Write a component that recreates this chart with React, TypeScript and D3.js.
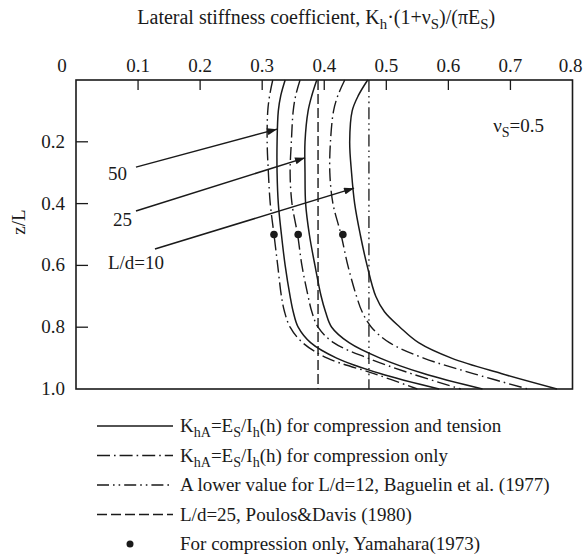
import React from 'react';
import * as d3 from 'd3';

// depth ratio z/L shared by the curves
const depthZ = [0, 0.05, 0.1, 0.2, 0.3, 0.4, 0.5, 0.6, 0.7, 0.75, 0.8, 0.85, 0.9, 0.95, 1.0];
// K_hA = Es/Ih(h), compression and tension (solid)
const solidLd10 = [0.470, 0.455, 0.445, 0.441, 0.444, 0.449, 0.458, 0.469, 0.483, 0.497, 0.522, 0.552, 0.605, 0.685, 0.775];
const solidLd25 = [0.388, 0.380, 0.374, 0.369, 0.369, 0.370, 0.376, 0.385, 0.395, 0.402, 0.412, 0.440, 0.490, 0.560, 0.655];
const solidLd50 = [0.337, 0.330, 0.326, 0.324, 0.324, 0.326, 0.331, 0.337, 0.345, 0.350, 0.358, 0.378, 0.420, 0.490, 0.585];
// compression only (dash-dot)
const compLd10 = [0.433, 0.422, 0.415, 0.410, 0.409, 0.414, 0.427, 0.438, 0.452, 0.461, 0.476, 0.505, 0.560, 0.640, 0.728];
const compLd25 = [0.361, 0.354, 0.350, 0.347, 0.345, 0.348, 0.357, 0.364, 0.374, 0.380, 0.390, 0.415, 0.470, 0.540, 0.620];
const compLd50 = [0.317, 0.312, 0.309, 0.308, 0.310, 0.313, 0.319, 0.325, 0.331, 0.336, 0.345, 0.365, 0.405, 0.480, 0.550];
// reference constant values
const baguelinK = 0.472;
const poulosK = 0.39;
// Yamahara points
const yamaharaK = [0.319, 0.358, 0.430];
const yamaharaZ = [0.5, 0.5, 0.5];

const xTickValues = [0, 0.1, 0.2, 0.3, 0.4, 0.5, 0.6, 0.7, 0.8];
const xTickLabels = ['0', '0.1', '0.2', '0.3', '0.4', '0.5', '0.6', '0.7', '0.8'];
const yTickValues = [0.2, 0.4, 0.6, 0.8, 1.0];
const yTickLabels = ['0.2', '0.4', '0.6', '0.8', '1.0'];

// L/d annotations (label anchor and arrow in data units)
const ldLabels = ['50', '25', 'L/d=10'];
const ldLabelK = [0.0668, 0.0749, 0.0966];
const ldLabelZ = [0.304, 0.453, 0.592];
const arrowFromK = [0.0966, 0.0966, 0.1272];
const arrowFromZ = [0.282, 0.424, 0.547];
const arrowToK = [0.324, 0.369, 0.448];
const arrowToZ = [0.159, 0.252, 0.350];

const FONT = "'Liberation Serif', 'Times New Roman', serif";
const INK = '#1a1a1a';
const DASHDOT = '13,4,1.6,4';
const DASHDOTDOT = '12,4,1.6,4,1.6,4';
const DASHED = '10,4';

type Part = { t: string; sub?: boolean };

function Rich({ parts, x, y, anchor = 'start', size = 19, ...rest }: any) {
  const out: any[] = [];
  let prevSub = false;
  parts.forEach((p: Part, i: number) => {
    let dy = 0;
    if (p.sub && !prevSub) dy = 5;
    if (!p.sub && prevSub) dy = -5;
    out.push(
      <tspan key={i} dy={dy} fontSize={p.sub ? size * 0.74 : size}>
        {p.t}
      </tspan>
    );
    prevSub = !!p.sub;
  });
  return (
    <text x={x} y={y} textAnchor={anchor} fontFamily={FONT} fontSize={size} fill={INK} {...rest}>
      {out}
    </text>
  );
}

const khaParts = (tail: string): Part[] => [
  { t: 'K' }, { t: 'hA', sub: true }, { t: '=E' }, { t: 'S', sub: true }, { t: '/I' }, { t: 'h', sub: true }, { t: '(h) ' + tail },
];

export default function App() {
  const x = d3.scaleLinear().domain([0, 0.8]).range([76, 572.5]);
  const y = d3.scaleLinear().domain([0, 1]).range([80, 389]);
  const line = d3
    .line<[number, number]>()
    .x((d) => x(d[0]))
    .y((d) => y(d[1]))
    .curve(d3.curveCatmullRom.alpha(0.5));
  const pts = (vals: number[]) => vals.map((v, i) => [v, depthZ[i]] as [number, number]);

  const solids = [solidLd10, solidLd25, solidLd50];
  const comps = [compLd10, compLd25, compLd50];
  const [x0, x1] = x.range();
  const [y0, y1] = y.range();

  const legendRows = [
    { dash: undefined, parts: khaParts('for compression and tension') },
    { dash: DASHDOT, parts: khaParts('for compression only') },
    { dash: DASHDOTDOT, parts: [{ t: 'A lower value for L/d=12, Baguelin et al. (1977)' }] },
    { dash: DASHED, parts: [{ t: 'L/d=25, Poulos&Davis (1980)' }] },
    { dot: true, parts: [{ t: 'For compression only, Yamahara(1973)' }] },
  ];
  const legendY0 = 427;
  const legendStep = 29.5;

  return (
    <svg width={584} height={557} style={{ position: 'absolute', left: 0, top: 0, background: '#fff' }}>
      <defs>
        <marker id="arr" viewBox="0 0 10 7" refX={10} refY={3.5} markerWidth={11} markerHeight={7} markerUnits="userSpaceOnUse" orient="auto">
          <path d="M0,0 L10,3.5 L0,7 z" fill={INK} />
        </marker>
      </defs>
      {/* title */}
      <Rich
        x={(x0 + x1) / 2 - 8}
        y={24}
        anchor="middle"
        size={20}
        parts={[
          { t: 'Lateral stiffness coefficient, K' }, { t: 'h', sub: true }, { t: '·(1+ν' }, { t: 'S', sub: true },
          { t: ')/(πE' }, { t: 'S', sub: true }, { t: ')' },
        ]}
      />
      {/* x tick labels */}
      {xTickValues.map((v, i) => (
        <text key={'xl' + i} x={x(v) - (v === 0 ? 14 : 0) - (v === 0.8 ? 2 : 0)} y={72} textAnchor="middle" fontFamily={FONT} fontSize={19} fill={INK}>
          {xTickLabels[i]}
        </text>
      ))}
      {/* y tick labels */}
      {yTickValues.map((v, i) => (
        <text key={'yl' + i} x={65} y={y(v) + 6} textAnchor="end" fontFamily={FONT} fontSize={19} fill={INK}>
          {yTickLabels[i]}
        </text>
      ))}
      <text transform={`translate(25,${y(0.46)}) rotate(-90)`} textAnchor="middle" fontFamily={FONT} fontSize={19} fill={INK}>
        z/L
      </text>
      {/* ticks */}
      {xTickValues.slice(1, -1).map((v, i) => (
        <line key={'xt' + i} x1={x(v)} x2={x(v)} y1={y0} y2={y0 + 10} stroke={INK} strokeWidth={1.3} />
      ))}
      {yTickValues.slice(0, -1).map((v, i) => (
        <line key={'yt' + i} x1={x0} x2={x0 + 12} y1={y(v)} y2={y(v)} stroke={INK} strokeWidth={1.3} />
      ))}
      {/* reference verticals */}
      <line x1={x(poulosK)} x2={x(poulosK)} y1={y0} y2={y1} stroke={INK} strokeWidth={1.4} strokeDasharray={DASHED} />
      <line x1={x(baguelinK)} x2={x(baguelinK)} y1={y0} y2={y1} stroke={INK} strokeWidth={1.3} strokeDasharray={DASHDOTDOT} />
      {/* curves */}
      {solids.map((s, i) => (
        <path key={'s' + i} d={line(pts(s)) || ''} fill="none" stroke={INK} strokeWidth={1.5} />
      ))}
      {comps.map((s, i) => (
        <path key={'c' + i} d={line(pts(s)) || ''} fill="none" stroke={INK} strokeWidth={1.4} strokeDasharray={DASHDOT} />
      ))}
      {/* Yamahara dots */}
      {yamaharaK.map((k, i) => (
        <circle key={'d' + i} cx={x(k)} cy={y(yamaharaZ[i])} r={3.8} fill={INK} />
      ))}
      {/* frame */}
      <rect x={x0} y={y0} width={x1 - x0} height={y1 - y0} fill="none" stroke={INK} strokeWidth={1.6} />
      {/* annotations */}
      {ldLabels.map((l, i) => (
        <g key={'an' + i}>
          <line
            x1={x(arrowFromK[i])}
            y1={y(arrowFromZ[i])}
            x2={x(arrowToK[i])}
            y2={y(arrowToZ[i])}
            stroke={INK}
            strokeWidth={1.5}
            markerEnd="url(#arr)"
          />
          <text x={x(ldLabelK[i])} y={y(ldLabelZ[i]) + 6} textAnchor="middle" fontFamily={FONT} fontSize={19} fill={INK}>
            {l}
          </text>
        </g>
      ))}
      <Rich x={544} y={132} anchor="end" parts={[{ t: 'ν' }, { t: 'S', sub: true }, { t: '=0.5' }]} />
      {/* legend */}
      {legendRows.map((r: any, i) => {
        const ly = legendY0 + i * legendStep;
        return (
          <g key={'lg' + i}>
            {r.dot ? (
              <circle cx={130} cy={ly - 1} r={3.5} fill={INK} />
            ) : (
              <line x1={97} x2={173} y1={ly - 1} y2={ly - 1} stroke={INK} strokeWidth={1.4} strokeDasharray={r.dash} />
            )}
            <Rich x={180} y={ly + 5} parts={r.parts} />
          </g>
        );
      })}
    </svg>
  );
}
